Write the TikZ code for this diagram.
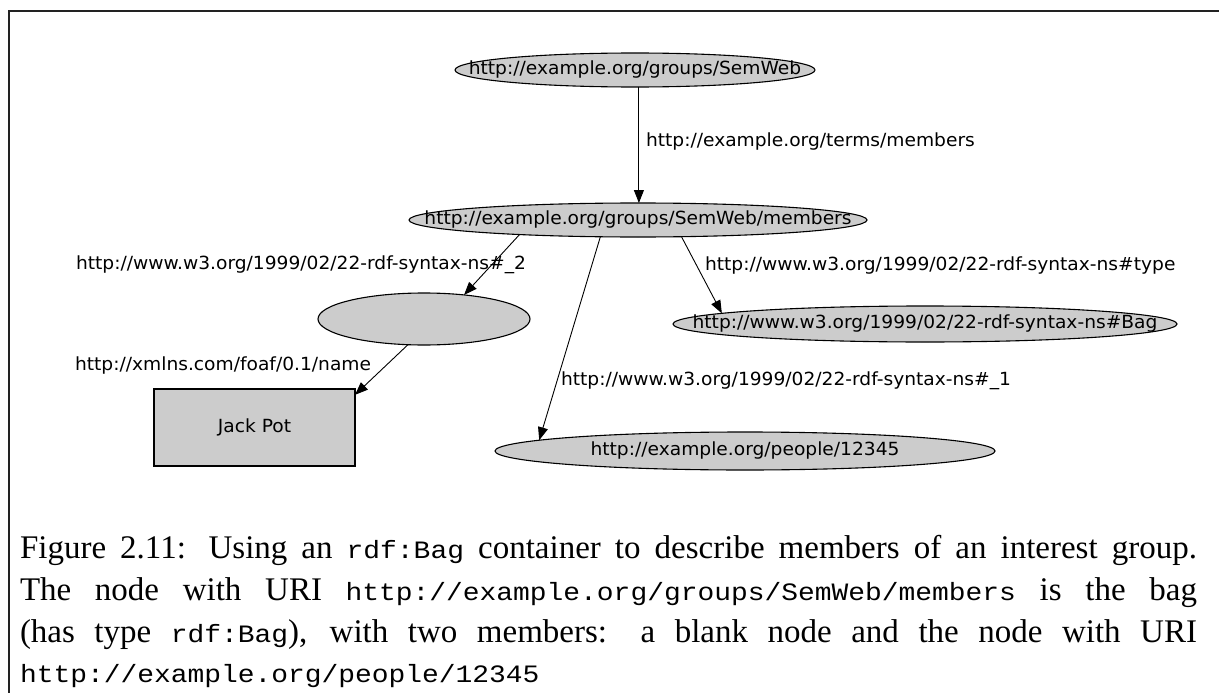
\documentclass[tikz,border=0pt]{standalone}
\usepackage{fontspec}
\usetikzlibrary{shapes.geometric,arrows.meta}
\newfontfamily\diafont[FakeStretch=1.03]{DejaVu Sans}
\newfontfamily\capserif{Liberation Serif}
\newfontfamily\capmono[FakeStretch=1.117]{Liberation Mono}
\newcommand\cmono[1]{{\capmono\fontsize{25}{34}\selectfont #1}}
\definecolor{nodegray}{HTML}{CCCCCC}
\definecolor{framegray}{HTML}{222222}

\begin{document}
\begin{tikzpicture}[x=1pt,y=-1pt,
  every node/.style={inner sep=0pt,outer sep=0pt},
  dtext/.style={font=\diafont\fontsize{18.1}{22}\selectfont},
  res/.style={ellipse,draw=black,fill=nodegray,line width=1.1pt},
  lit/.style={rectangle,draw=black,fill=nodegray,line width=1.1pt,dtext},
  elabel/.style={dtext,anchor=west},
  arc/.style={draw=black,line width=0.9pt,-{Triangle[length=13pt,width=10pt]}},
  capline/.style={anchor=base west,font=\capserif\fontsize{33}{40}\selectfont},
  frame/.style={draw=framegray,line width=1.5pt}]

\useasboundingbox (0,0) rectangle (1219,693);

% frame lines
\coordinate (ftl) at (9,11);
\coordinate (ftr) at (1219,11);
\coordinate (fbl) at (9,693);
\draw[frame] (ftr) -- (ftl) -- (fbl);

% graph nodes
\node[res,minimum width=360pt,minimum height=34pt,
      label={[dtext]center:{http://example.org/groups/SemWeb}}] (semweb) at (635,70) {};
\node[res,minimum width=458pt,minimum height=34pt,
      label={[dtext]center:{http://example.org/groups/SemWeb/members}}] (members) at (638,220) {};
\node[res,minimum width=212pt,minimum height=52pt] (blank) at (424,319) {};
\node[res,minimum width=504pt,minimum height=36pt,
      label={[dtext]center:{http://www.w3.org/1999/02/22-rdf-syntax-ns\#Bag}}] (bag) at (925,324) {};
\node[res,minimum width=500pt,minimum height=38pt,
      label={[dtext]center:{http://example.org/people/12345}}] (people) at (745,451) {};
\node[lit,minimum width=201pt,minimum height=77pt] (jack) at (254.5,427.5) {Jack Pot};

% edges
\draw[arc] (semweb.283) -- (semweb.283 |- members.north);
\draw[arc] (members.187) -- (blank.31);
\draw[arc] (members.204) -- (people.177);
\draw[arc] (members.339) -- (bag.177);
\draw[arc] (blank.238) -- (jack.18);

% edge labels
\node[elabel] (lmembers) at (646,142) {http://example.org/terms/members};
\node[elabel] (ltwo) at (76,265) {http://www.w3.org/1999/02/22-rdf-syntax-ns\#\_2};
\node[elabel] (ltype) at (705,266) {http://www.w3.org/1999/02/22-rdf-syntax-ns\#type};
\node[elabel] (lname) at (75,366) {http://xmlns.com/foaf/0.1/name};
\node[elabel] (lone) at (561,381) {http://www.w3.org/1999/02/22-rdf-syntax-ns\#\_1};

% caption
\node[capline] (cap1) at (20,558) {\makebox[1177pt][s]{Figure 2.11: Using an \cmono{rdf:Bag} container to describe members of an interest group.}};
\node[capline] (cap2) at (20,600) {\makebox[1177pt][s]{The node with URI \cmono{http://example.org/groups/SemWeb/members} is the bag}};
\node[capline] (cap3) at (20,642) {\makebox[1177pt][s]{(has type \cmono{rdf:Bag}), with two members: a blank node and the node with URI}};
\node[capline] (cap4) at (20,682) {\cmono{http://example.org/people/12345}};
\end{tikzpicture}
\end{document}
